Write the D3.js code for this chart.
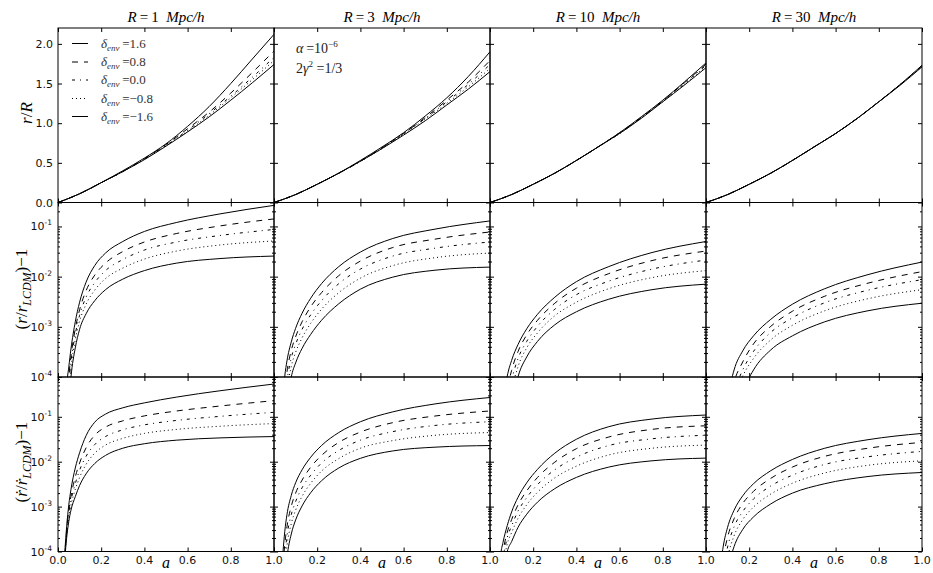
<!DOCTYPE html>
<html><head><meta charset="utf-8">
<script src="https://cdn.jsdelivr.net/npm/d3@7"></script>
<style>body{margin:0;background:#fff}svg{display:block}</style>
</head><body><svg id="c" width="933" height="573"></svg>
<script>
// ---------------- data ----------------
const radii = ["1", "3", "10", "30"];
const deltaEnv = ["1.6", "0.8", "0.0", "\u22120.8", "\u22121.6"];
const xTicks = [0, 0.2, 0.4, 0.6, 0.8, 1.0];
const yTicksTop = [0, 0.5, 1.0, 1.5, 2.0];
const yTicksLogExp = [-4, -3, -2, -1];

// top row: r/R vs a
const aLin = [0, 0.1, 0.2, 0.3, 0.4, 0.5, 0.6, 0.7, 0.8, 0.9, 1.0];
const rR_R1 = [
  [0, 0.11, 0.25, 0.40, 0.56, 0.74, 0.96, 1.21, 1.50, 1.81, 2.12],
  [0, 0.11, 0.25, 0.39, 0.55, 0.73, 0.93, 1.14, 1.38, 1.64, 1.91],
  [0, 0.11, 0.25, 0.39, 0.55, 0.72, 0.91, 1.12, 1.34, 1.58, 1.83],
  [0, 0.11, 0.25, 0.39, 0.55, 0.72, 0.90, 1.10, 1.32, 1.55, 1.79],
  [0, 0.11, 0.25, 0.39, 0.54, 0.71, 0.89, 1.08, 1.29, 1.51, 1.74]];
const rR_R3 = [
  [0, 0.10, 0.23, 0.37, 0.53, 0.70, 0.88, 1.09, 1.32, 1.59, 1.90],
  [0, 0.10, 0.23, 0.37, 0.52, 0.69, 0.87, 1.07, 1.29, 1.52, 1.79],
  [0, 0.10, 0.23, 0.37, 0.52, 0.69, 0.87, 1.06, 1.27, 1.49, 1.74],
  [0, 0.10, 0.23, 0.37, 0.52, 0.68, 0.86, 1.05, 1.25, 1.46, 1.69],
  [0, 0.10, 0.23, 0.37, 0.52, 0.68, 0.85, 1.03, 1.23, 1.43, 1.65]];
const rR_R10 = [
  [0, 0.10, 0.23, 0.37, 0.53, 0.70, 0.88, 1.08, 1.29, 1.52, 1.76],
  [0, 0.10, 0.23, 0.37, 0.53, 0.70, 0.88, 1.07, 1.28, 1.51, 1.745],
  [0, 0.10, 0.23, 0.37, 0.53, 0.70, 0.87, 1.07, 1.28, 1.50, 1.73],
  [0, 0.10, 0.23, 0.37, 0.53, 0.70, 0.87, 1.07, 1.27, 1.49, 1.72],
  [0, 0.10, 0.23, 0.37, 0.53, 0.70, 0.87, 1.06, 1.27, 1.48, 1.70]];
const rR_R30 = [
  [0, 0.10, 0.23, 0.37, 0.53, 0.70, 0.87, 1.06, 1.27, 1.49, 1.73],
  [0, 0.10, 0.23, 0.37, 0.53, 0.70, 0.87, 1.06, 1.27, 1.49, 1.725],
  [0, 0.10, 0.23, 0.37, 0.53, 0.70, 0.87, 1.06, 1.27, 1.49, 1.72],
  [0, 0.10, 0.23, 0.37, 0.53, 0.70, 0.87, 1.06, 1.27, 1.49, 1.715],
  [0, 0.10, 0.23, 0.37, 0.53, 0.70, 0.87, 1.06, 1.27, 1.48, 1.71]];

// log rows: values are log10 of the plotted quantity (below 1e-4 = clipped)
const aLog = [0.02, 0.03, 0.04, 0.05, 0.06, 0.08, 0.10, 0.13, 0.17, 0.22, 0.30, 0.40, 0.55, 0.75, 1.00];
// middle row: log10[(r/r_LCDM) - 1]
const lgDr_R1 = [
  [-6.5, -5.2, -4.2, -3.80, -3.44, -2.90, -2.51, -2.11, -1.78, -1.53, -1.30, -1.10, -0.92, -0.75, -0.58],
  [-6.77, -5.50, -4.50, -3.99, -3.59, -3.04, -2.66, -2.28, -1.97, -1.73, -1.50, -1.31, -1.14, -0.99, -0.85],
  [-6.98, -5.73, -4.73, -4.14, -3.71, -3.15, -2.77, -2.41, -2.12, -1.88, -1.66, -1.47, -1.31, -1.18, -1.06],
  [-7.2, -5.97, -4.97, -4.29, -3.83, -3.26, -2.89, -2.55, -2.27, -2.04, -1.83, -1.65, -1.49, -1.37, -1.29],
  [-7.5, -6.3, -5.3, -4.5, -4.0, -3.42, -3.05, -2.74, -2.48, -2.26, -2.05, -1.88, -1.73, -1.64, -1.59]];
const lgDr_R3 = [
  [-7.0, -5.6, -4.5, -3.98, -3.68, -3.30, -3.03, -2.73, -2.43, -2.14, -1.80, -1.51, -1.24, -1.05, -0.89],
  [-7.24, -5.94, -4.86, -4.27, -3.90, -3.47, -3.20, -2.90, -2.60, -2.32, -1.98, -1.69, -1.42, -1.25, -1.11],
  [-7.46, -6.24, -5.19, -4.54, -4.10, -3.62, -3.35, -3.05, -2.76, -2.48, -2.14, -1.85, -1.59, -1.43, -1.31],
  [-7.7, -6.58, -5.55, -4.83, -4.32, -3.79, -3.51, -3.22, -2.93, -2.65, -2.32, -2.03, -1.78, -1.62, -1.53],
  [-8.0, -7.0, -6.0, -5.2, -4.6, -4.0, -3.72, -3.43, -3.15, -2.87, -2.54, -2.25, -2.01, -1.87, -1.81]];
const lgDr_R10 = [
  [-8.0, -6.8, -5.8, -5.1, -4.55, -3.98, -3.67, -3.35, -3.04, -2.75, -2.41, -2.10, -1.80, -1.52, -1.30],
  [-8.26, -7.11, -6.13, -5.43, -4.87, -4.25, -3.87, -3.49, -3.16, -2.87, -2.53, -2.23, -1.94, -1.68, -1.49],
  [-8.53, -7.42, -6.46, -5.76, -5.19, -4.52, -4.07, -3.63, -3.29, -2.99, -2.65, -2.36, -2.09, -1.85, -1.67],
  [-8.82, -7.75, -6.82, -6.12, -5.54, -4.81, -4.28, -3.79, -3.42, -3.12, -2.78, -2.51, -2.24, -2.02, -1.88],
  [-9.2, -8.2, -7.3, -6.6, -6.0, -5.2, -4.57, -3.99, -3.60, -3.29, -2.96, -2.70, -2.45, -2.26, -2.15]];
const lgDr_R30 = [
  [-9.2, -8.2, -7.3, -6.6, -6.0, -5.1, -4.44, -3.86, -3.48, -3.18, -2.85, -2.55, -2.24, -1.96, -1.71],
  [-9.22, -8.27, -7.42, -6.74, -6.16, -5.31, -4.68, -4.10, -3.70, -3.34, -2.99, -2.69, -2.39, -2.13, -1.90],
  [-9.24, -8.33, -7.52, -6.86, -6.30, -5.49, -4.90, -4.31, -3.86, -3.49, -3.11, -2.82, -2.52, -2.27, -2.06],
  [-9.27, -8.40, -7.64, -7.0, -6.47, -5.70, -5.15, -4.40, -3.98, -3.63, -3.26, -2.97, -2.68, -2.44, -2.26],
  [-9.3, -8.5, -7.8, -7.2, -6.7, -6.0, -5.5, -4.9, -4.3, -3.86, -3.46, -3.18, -2.90, -2.68, -2.53]];
// bottom row: log10[(rdot/rdot_LCDM) - 1]
const lgDv_R1 = [
  [-5.2, -4.15, -3.45, -2.96, -2.62, -2.14, -1.80, -1.42, -1.12, -0.94, -0.80, -0.69, -0.56, -0.42, -0.27],
  [-5.23, -4.20, -3.53, -3.08, -2.77, -2.34, -2.03, -1.69, -1.41, -1.23, -1.09, -0.98, -0.87, -0.76, -0.64],
  [-5.25, -4.23, -3.59, -3.16, -2.87, -2.49, -2.19, -1.88, -1.62, -1.44, -1.29, -1.18, -1.08, -0.99, -0.90],
  [-5.28, -4.26, -3.64, -3.24, -2.97, -2.62, -2.35, -2.06, -1.81, -1.63, -1.48, -1.37, -1.28, -1.21, -1.15],
  [-5.3, -4.3, -3.70, -3.33, -3.08, -2.78, -2.53, -2.27, -2.04, -1.86, -1.70, -1.60, -1.52, -1.47, -1.44]];
const lgDv_R3 = [
  [-6.2, -5.0, -4.13, -3.55, -3.18, -2.75, -2.47, -2.18, -1.90, -1.64, -1.35, -1.11, -0.89, -0.71, -0.57],
  [-6.42, -5.28, -4.43, -3.84, -3.45, -2.99, -2.70, -2.41, -2.12, -1.86, -1.57, -1.34, -1.13, -0.98, -0.87],
  [-6.6, -5.5, -4.67, -4.08, -3.66, -3.18, -2.89, -2.58, -2.30, -2.03, -1.75, -1.52, -1.33, -1.19, -1.11],
  [-6.78, -5.73, -4.91, -4.32, -3.87, -3.38, -3.08, -2.77, -2.48, -2.21, -1.93, -1.70, -1.53, -1.41, -1.35],
  [-7.0, -6.0, -5.2, -4.6, -4.13, -3.61, -3.30, -2.985, -2.69, -2.425, -2.14, -1.925, -1.76, -1.675, -1.64]];
const lgDv_R10 = [
  [-6.8, -5.5, -4.6, -4.05, -3.80, -3.42, -3.12, -2.79, -2.47, -2.17, -1.81, -1.50, -1.22, -1.05, -0.96],
  [-7.05, -5.78, -4.88, -4.31, -4.0, -3.57, -3.29, -2.96, -2.65, -2.35, -2.01, -1.71, -1.45, -1.28, -1.20],
  [-7.27, -6.02, -5.12, -4.54, -4.18, -3.69, -3.43, -3.10, -2.80, -2.51, -2.18, -1.90, -1.64, -1.49, -1.41],
  [-7.5, -6.27, -5.37, -4.79, -4.36, -3.83, -3.58, -3.26, -2.96, -2.68, -2.36, -2.10, -1.85, -1.70, -1.63],
  [-7.8, -6.6, -5.7, -5.1, -4.6, -4.0, -3.78, -3.46, -3.17, -2.90, -2.60, -2.35, -2.12, -1.98, -1.92]];
const lgDv_R30 = [
  [-8.0, -6.8, -5.9, -5.2, -4.63, -3.88, -3.46, -3.08, -2.76, -2.49, -2.20, -1.95, -1.70, -1.51, -1.37],
  [-8.14, -6.98, -6.11, -5.43, -4.88, -4.14, -3.68, -3.27, -2.93, -2.66, -2.37, -2.12, -1.88, -1.70, -1.57],
  [-8.28, -7.17, -6.31, -5.66, -5.12, -4.40, -3.90, -3.45, -3.11, -2.83, -2.54, -2.30, -2.06, -1.89, -1.77],
  [-8.42, -7.36, -6.53, -5.90, -5.38, -4.66, -4.13, -3.65, -3.29, -3.01, -2.72, -2.48, -2.25, -2.08, -1.98],
  [-8.6, -7.6, -6.8, -6.2, -5.7, -5.0, -4.42, -3.89, -3.51, -3.23, -2.94, -2.70, -2.49, -2.33, -2.24]];

const topData = [rR_R1, rR_R3, rR_R10, rR_R30];
const midData = [lgDr_R1, lgDr_R3, lgDr_R10, lgDr_R30];
const botData = [lgDv_R1, lgDv_R3, lgDv_R10, lgDv_R30];

// ---------------- layout ----------------
const X0 = 58, PW = 216, RH = 174.5;
const rowTop = [28, 202.5, 377];
const dashes = [null, "6,6", "3,5,1,5", "1,3", null];
const SERIF = "'Liberation Serif','DejaVu Serif',serif";
const SANS = "'DejaVu Sans',sans-serif";
const svg = d3.select("#c");
const defs = svg.append("defs");

const xs = [0,1,2,3].map(i => d3.scaleLinear().domain([0,1]).range([X0+i*PW, X0+(i+1)*PW]));
const yScales = [
  d3.scaleLinear().domain([0, 2.2]).range([rowTop[0]+RH, rowTop[0]]),
  d3.scaleLog().domain([1e-4, 0.3]).range([rowTop[1]+RH, rowTop[1]]),
  d3.scaleLog().domain([1e-4, 0.77]).range([rowTop[2]+RH, rowTop[2]])
];

function minorLog(dom) {
  const out = [];
  for (let e = -5; e <= 0; e++) for (let k = 2; k <= 9; k++) {
    const v = k * Math.pow(10, e);
    if (v > dom[0] && v < dom[1]) out.push(v);
  }
  return out;
}

for (let r = 0; r < 3; r++) {
  for (let c = 0; c < 4; c++) {
    const x = xs[c], y = yScales[r];
    const g = svg.append("g");
    const id = `clip${r}${c}`;
    defs.append("clipPath").attr("id", id).append("rect")
      .attr("x", x.range()[0]).attr("y", rowTop[r]).attr("width", PW).attr("height", RH);
    const lg = g.append("g").attr("clip-path", `url(#${id})`);
    let series, aVals, yv;
    if (r === 0) { series = topData[c]; aVals = aLin; yv = v => y(v); }
    else { series = (r === 1 ? midData : botData)[c]; aVals = aLog; yv = v => y(Math.pow(10, v)); }
    const line = d3.line().x((d, i) => x(aVals[i])).y(d => yv(d)).curve(d3.curveMonotoneX);
    series.forEach((s, k) => {
      lg.append("path").attr("d", line(s)).attr("fill", "none")
        .attr("stroke", "#000").attr("stroke-width", 1)
        .attr("stroke-dasharray", dashes[k]);
    });
    const bottom = rowTop[r] + RH, top = rowTop[r];
    const left = x.range()[0], right = x.range()[1];
    g.append("g").attr("transform", `translate(0,${bottom})`)
      .call(d3.axisBottom(x).tickValues(xTicks).tickSize(-4).tickSizeOuter(0).tickFormat(""));
    g.append("g").attr("transform", `translate(0,${top})`)
      .call(d3.axisTop(x).tickValues(xTicks).tickSize(-4).tickSizeOuter(0).tickFormat(""));
    let maj;
    if (r === 0) maj = yTicksTop;
    else {
      maj = yTicksLogExp.map(e => Math.pow(10, e));
      const mn = minorLog(y.domain());
      g.append("g").attr("transform", `translate(${left},0)`)
        .call(d3.axisLeft(y).tickValues(mn).tickSize(-2).tickSizeOuter(0).tickFormat(""));
      g.append("g").attr("transform", `translate(${right},0)`)
        .call(d3.axisRight(y).tickValues(mn).tickSize(-2).tickSizeOuter(0).tickFormat(""));
    }
    g.append("g").attr("transform", `translate(${left},0)`)
      .call(d3.axisLeft(y).tickValues(maj).tickSize(-4).tickSizeOuter(0).tickFormat(""));
    g.append("g").attr("transform", `translate(${right},0)`)
      .call(d3.axisRight(y).tickValues(maj).tickSize(-4).tickSizeOuter(0).tickFormat(""));
    g.selectAll(".domain").remove();
    g.selectAll(".tick line").attr("stroke", "#000");
    g.append("rect").attr("x", left).attr("y", top).attr("width", PW).attr("height", RH)
      .attr("fill", "none").attr("stroke", "#000").attr("stroke-width", 1);

    if (c === 0) {
      if (r === 0) {
        yTicksTop.forEach(v => {
          g.append("text").attr("x", left - 5).attr("y", y(v) + 4)
            .attr("text-anchor", "end").attr("font-family", SANS).attr("font-size", 11)
            .attr("fill", "#111").text(d3.format(".1f")(v));
        });
      } else {
        yTicksLogExp.forEach(e => {
          const t = g.append("text").attr("x", left - 6).attr("y", y(Math.pow(10, e)) + 4)
            .attr("text-anchor", "end").attr("font-family", SANS).attr("font-size", 11).attr("fill", "#111");
          t.append("tspan").text("10");
          t.append("tspan").attr("dy", -5).attr("font-size", 7.5).text("-" + Math.abs(e));
        });
      }
    }
    if (r === 2) {
      xTicks.forEach(v => {
        if (c > 0 && v === 0) return;
        g.append("text").attr("x", x(v)).attr("y", bottom + 12)
          .attr("text-anchor", "middle").attr("font-family", SANS).attr("font-size", 11)
          .attr("fill", "#111").text(d3.format(".1f")(v));
      });
      g.append("text").attr("x", (left + right) / 2).attr("y", 568)
        .attr("text-anchor", "middle").attr("font-family", SERIF).attr("font-style", "italic")
        .attr("font-size", 16).text("a");
    }
    if (r === 0) {
      const t = g.append("text").attr("x", (left + right) / 2).attr("y", 22)
        .attr("text-anchor", "middle").attr("font-family", SERIF).attr("font-size", 15);
      t.append("tspan").attr("font-style", "italic").text("R");
      t.append("tspan").text("\u2009=\u2009" + radii[c] + "\u2002");
      t.append("tspan").attr("font-style", "italic").text("Mpc/h");
    }
  }
}

// legend
const legY = [43.5, 62, 80, 98.5, 116.5];
deltaEnv.forEach((d, k) => {
  svg.append("line").attr("x1", 72).attr("x2", 88).attr("y1", legY[k]).attr("y2", legY[k])
    .attr("stroke", "#000").attr("stroke-width", 1).attr("stroke-dasharray", dashes[k]);
  const t = svg.append("text").attr("x", 101).attr("y", legY[k] + 4)
    .attr("font-family", SERIF).attr("font-size", 13).attr("fill", "#333");
  t.append("tspan").attr("font-style", "italic").text("\u03b4");
  t.append("tspan").attr("font-style", "italic").attr("font-size", 9).attr("dy", 3).text("env");
  t.append("tspan").attr("dy", -3).text("\u2009=" + d);
});

// annotation
{
  const t1 = svg.append("text").attr("x", 296).attr("y", 53).attr("font-family", SERIF).attr("font-size", 14).attr("fill", "#222");
  t1.append("tspan").attr("font-style", "italic").text("\u03b1");
  t1.append("tspan").text("\u2009=10");
  t1.append("tspan").attr("dy", -6).attr("font-size", 9).text("\u22126");
  const t2 = svg.append("text").attr("x", 296).attr("y", 73).attr("font-family", SERIF).attr("font-size", 14).attr("fill", "#222");
  t2.append("tspan").text("2");
  t2.append("tspan").attr("font-style", "italic").text("\u03b3");
  t2.append("tspan").attr("dy", -6).attr("font-size", 9).text("2");
  t2.append("tspan").attr("dy", 6).text("\u00a0=1/3");
}

function yLabel(xp, yp, parts) {
  const t = svg.append("text").attr("transform", `translate(${xp},${yp}) rotate(-90)`)
    .attr("text-anchor", "middle").attr("font-family", SERIF).attr("font-size", 17);
  parts.forEach(p => {
    const s = t.append("tspan").text(p[0]);
    if (p[1]) s.attr("font-style", "italic");
    if (p[2]) s.attr("font-size", p[2]);
    if (p[3]) s.attr("dy", p[3]);
  });
}
yLabel(32, 113, [["r", 1], ["/", 0], ["R", 1]]);
yLabel(27, 289, [["(", 0], ["r", 1], ["/", 0], ["r", 1], ["LCDM", 1, 12, 4], [")\u22121", 0, null, -4]]);
yLabel(27, 462, [["(", 0], ["\u1e59", 1], ["/", 0], ["\u1e59", 1], ["LCDM", 1, 12, 4], [")\u22121", 0, null, -4]]);
</script></body></html>
